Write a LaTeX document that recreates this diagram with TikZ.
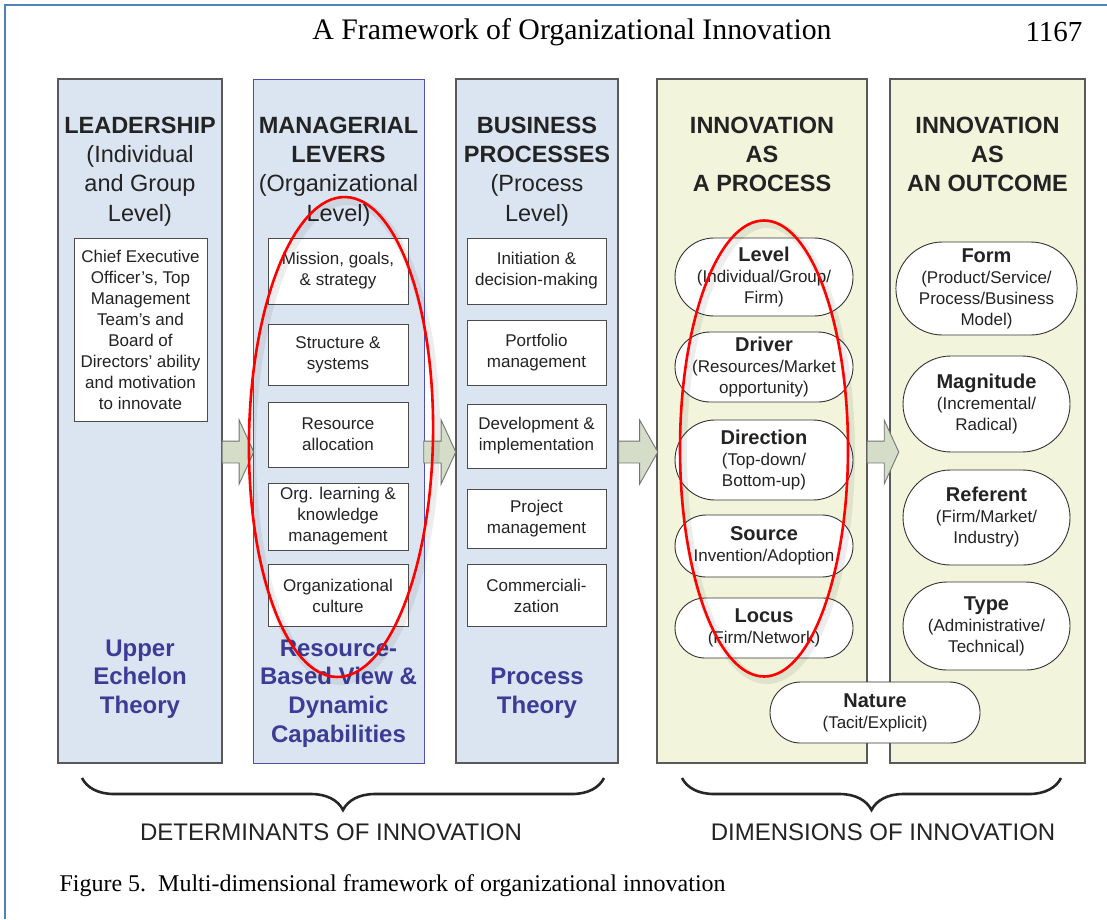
\documentclass[tikz,border=0pt]{standalone}
\usepackage{fontspec}
\setmainfont{Liberation Serif}
\setsansfont{Liberation Sans}
\usepackage{xcolor}
\usepackage{tikz}
\usetikzlibrary{
  arrows.meta,
  positioning,
  shapes.arrows,
  shapes.misc,
  decorations.pathreplacing
}
\definecolor{colblue}{RGB}{219,229,241}
\definecolor{colgreen}{RGB}{242,245,220}
\definecolor{arrfill}{RGB}{213,221,200}
\definecolor{theoryblue}{RGB}{60,60,150}
\definecolor{frameblue}{RGB}{79,129,189}
\definecolor{leverblue}{RGB}{80,80,170}
\definecolor{inktext}{RGB}{35,35,35}

\newcommand{\dimtitle}[1]{{\fontsize{20}{21}\selectfont\bfseries #1}}

\tikzset{
  colbox/.style={
    draw=black!65,
    line width=1.3pt,
    fill=colblue,
    minimum height=684pt,
    inner sep=0pt,
  },
  heading/.style={
    font=\sffamily\fontsize{23.5}{29.3}\selectfont,
    text=inktext,
    inner sep=0pt,
  },
  leverbox/.style={
    draw=black!70,
    fill=white,
    line width=0.9pt,
    minimum width=140pt,
    minimum height=62pt,
    inner sep=0pt,
    text=inktext,
    font=\sffamily\fontsize{17}{21}\selectfont,
  },
  dimbox/.style={
    rounded rectangle,
    draw=black!80,
    fill=white,
    line width=0.9pt,
    inner sep=0pt,
    text=inktext,
    font=\sffamily\fontsize{17}{21}\selectfont,
  },
  theory/.style={
    font=\sffamily\bfseries\fontsize{24}{28.7}\selectfont,
    text=theoryblue,
    inner sep=0pt,
  },
  blockarr/.style={
    single arrow,
    draw=black!55,
    fill=arrfill,
    line width=0.9pt,
    inner xsep=0pt,
    inner ysep=10.5pt,
    single arrow head extend=21pt,
    single arrow tip angle=131,
    anchor=tail,
  },
  halo/.style={
    draw=red,
    line width=2.6pt,
  },
  haloshadow/.style={
    draw=black,
    opacity=0.07,
    line width=8pt,
  },
  brace/.style={
    decorate,
    decoration={brace, mirror, amplitude=32pt},
    line width=2.6pt,
    draw=black!85,
  },
  grouplabel/.style={
    font=\sffamily\fontsize{24}{28}\selectfont,
    text=inktext,
  },
}

\begin{document}
\begin{tikzpicture}[
  x=1pt, y=-1pt,
  every node/.style={align=center},
]
  \useasboundingbox (0,0) rectangle (1107,919);

  % page frame and running head
  \draw[frameblue, line width=2pt] (5,919) -- (5,5) -- (1107,5);
  \node[font=\fontsize{29.8}{34}\selectfont] (runhead) at (572,32) {A Framework of Organizational Innovation};
  \node[anchor=east, font=\fontsize{29}{34}\selectfont] (pageno) at (1086,32) {1167};

  % Five columns
  \node[colbox, minimum width=164pt] (lead) at (140,421) {};
  \node[colbox, draw=leverblue, line width=0.8pt, minimum width=171pt] (levers) at (338.5,421) {};
  \node[colbox, minimum width=162pt] (bizproc) at (537,421) {};
  \node[colbox, fill=colgreen, minimum width=210pt] (asproc) at (762,421) {};
  \node[colbox, fill=colgreen, minimum width=195pt] (asout) at (987.5,421) {};

  % Block arrows between the columns
  \node[blockarr, minimum height=31.6pt] (arrA) at (221.7,452) {};
  \node[blockarr, minimum height=32pt] (arrB) at (423.3,452) {};
  \node[blockarr, minimum height=39pt, single arrow tip angle=121] (arrC) at (618.3,452) {};
  \node[blockarr, minimum height=31.6pt] (arrD) at (866.7,452) {};

  % Column headings
  \node[heading] (leadhd) at (140,171.5) {\textbf{LEADERSHIP}\\(Individual\\and Group\\Level)};
  \node[heading] (levershd) at (338.5,171.5) {\textbf{MANAGERIAL}\\\textbf{LEVERS}\\(Organizational\\Level)};
  \node[heading] (bizprochd) at (537,171.5) {\textbf{BUSINESS}\\\textbf{PROCESSES}\\(Process\\Level)};
  \node[heading, font=\sffamily\bfseries\fontsize{23.5}{29.3}\selectfont] (asprochd) at (762,154.5) {INNOVATION\\AS\\A PROCESS};
  \node[heading, font=\sffamily\bfseries\fontsize{23.5}{29.3}\selectfont] (asouthd) at (987.5,154.5) {INNOVATION\\AS\\AN OUTCOME};

  % Leadership
  \node[leverbox, minimum width=133pt, minimum height=183pt] (ceo) at (140.5,329.5) {Chief Executive\\Officer's, Top\\Management\\Team's and\\Board of\\Directors' ability\\and motivation\\to innovate};

  % Managerial levers
  \node[leverbox, minimum height=66pt] (mission) at (338,271) {Mission, goals,\\\& strategy};
  \node[leverbox, minimum height=61pt] (structure) at (338,354.5) {Structure \&\\systems};
  \node[leverbox, minimum height=65pt] (resalloc) at (338,434.5) {Resource\\allocation};
  \node[leverbox, minimum height=67pt] (orglearn) at (338,516.5) {Org. learning \&\\knowledge\\management};
  \node[leverbox, minimum height=62pt] (culture) at (338,595.5) {Organizational\\culture};

  % Business processes
  \node[leverbox, minimum width=139pt, minimum height=66pt] (initiation) at (536.5,271) {Initiation \&\\decision-making};
  \node[leverbox, minimum width=139pt, minimum height=65pt] (portfolio) at (536.5,352.5) {Portfolio\\management};
  \node[leverbox, minimum width=139pt, minimum height=64pt] (develop) at (536.5,436) {Development \&\\implementation};
  \node[leverbox, minimum width=139pt, minimum height=59pt] (project) at (536.5,518.5) {Project\\management};
  \node[leverbox, minimum width=139pt, minimum height=62pt] (commerce) at (536.5,595.5) {Commerciali-\\zation};

  % Theories under each determinant
  \node[theory] (upper) at (140,679) {Upper\\Echelon\\Theory};
  \node[theory] (rbv) at (338.5,693.5) {Resource-\\Based View \&\\Dynamic\\Capabilities};
  \node[theory] (proctheory) at (537,693) {Process\\Theory};

  % Innovation as a process
  \node[dimbox, minimum width=178pt, minimum height=78pt] (level) at (764,277) {\dimtitle{Level}\\(Individual/Group/\\Firm)};
  \node[dimbox, minimum width=178pt, minimum height=70pt] (driver) at (764,367) {\dimtitle{Driver}\\(Resources/Market\\opportunity)};
  \node[dimbox, minimum width=178pt, minimum height=80pt] (direction) at (764,460) {\dimtitle{Direction}\\(Top-down/\\Bottom-up)};
  \node[dimbox, minimum width=178pt, minimum height=62pt] (source) at (764,546) {\dimtitle{Source}\\Invention/Adoption};
  \node[dimbox, minimum width=178pt, minimum height=60pt] (locus) at (764,628) {\dimtitle{Locus}\\(Firm/Network)};

  % Innovation as an outcome
  \node[dimbox, minimum width=167pt, minimum height=93pt] (form) at (986.5,288.5) {\dimtitle{Form}\\(Product/Service/\\Process/Business\\Model)};
  \node[dimbox, minimum width=167pt, minimum height=96pt] (magnitude) at (986.5,404) {\dimtitle{Magnitude}\\(Incremental/\\Radical)};
  \node[dimbox, minimum width=167pt, minimum height=95pt] (referent) at (986.5,517.5) {\dimtitle{Referent}\\(Firm/Market/\\Industry)};
  \node[dimbox, minimum width=167pt, minimum height=88pt] (type) at (986.5,626) {\dimtitle{Type}\\(Administrative/\\Technical)};
  \node[dimbox, minimum width=210pt, minimum height=61pt] (nature) at (875,712.5) {\dimtitle{Nature}\\(Tacit/Explicit)};

  % Red rings
  \draw[haloshadow, rotate around={-1:(344,441)}] (344,441) ellipse [x radius=92, y radius=240];
  \draw[haloshadow] (767,452) ellipse [x radius=84, y radius=228];
  \draw[halo, rotate around={-1:(341,437)}] (341,437) ellipse [x radius=92, y radius=240];
  \draw[halo] (764,448.5) ellipse [x radius=84, y radius=228];

  % Braces and group labels
  \draw[brace] (82,778) -- (604,778);
  \draw[brace] (682,778) -- (1061,778);
  \node[grouplabel] (determinants) at (331,832) {DETERMINANTS OF INNOVATION};
  \node[grouplabel] (dimensions) at (883,832) {DIMENSIONS OF INNOVATION};

  % Caption
  \node[anchor=west, font=\fontsize{24}{27}\selectfont] (caption) at (56,886) {Figure 5.\ \ Multi-dimensional framework of organizational innovation};
\end{tikzpicture}
\end{document}
